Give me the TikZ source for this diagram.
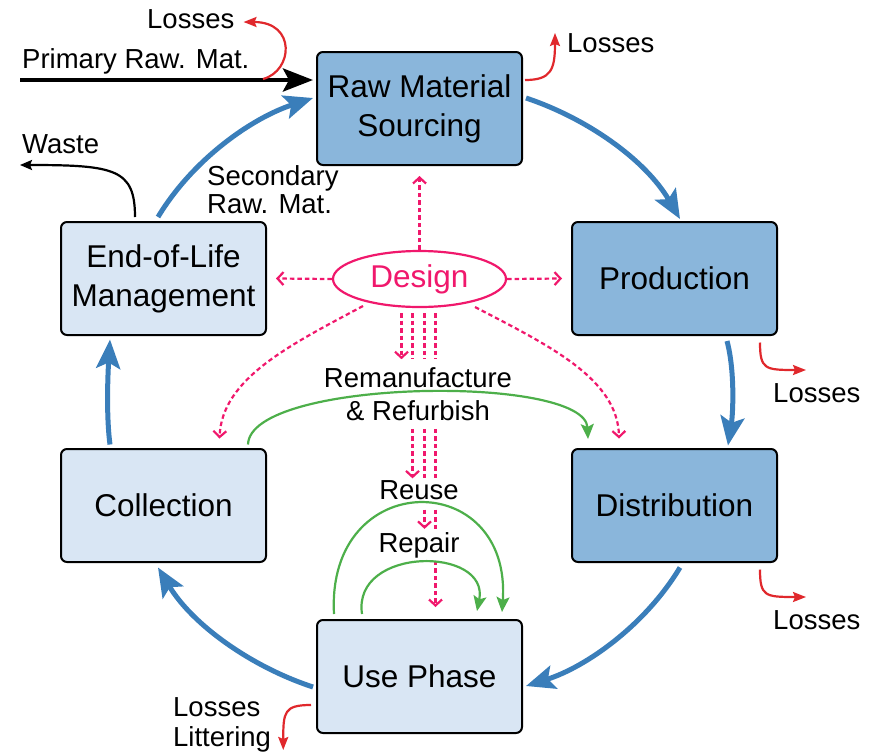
\documentclass[tikz,border=0pt]{standalone}
\usepackage{fontspec}
\setmainfont{Liberation Sans}
\usetikzlibrary{arrows.meta,shapes.geometric,calc}
\definecolor{darkbox}{HTML}{8AB6DB}
\definecolor{lightbox}{HTML}{D9E6F4}
\definecolor{blueflow}{HTML}{3A7EBA}
\definecolor{lossred}{HTML}{E0282C}
\definecolor{dpink}{HTML}{F0186C}
\definecolor{gflow}{HTML}{4DAF4A}
\begin{document}
\begin{tikzpicture}[x=1pt,y=-1pt,
 box/.style={draw=black,line width=2pt,rounded corners=6pt,minimum width=205pt,minimum height=113pt,inner sep=0pt,align=center,font=\fontsize{31.5}{39}\selectfont},
 darkb/.style={box,fill=darkbox},
 lightb/.style={box,fill=lightbox},
 lbl/.style={inner sep=0pt,font=\fontsize{27.5}{29}\selectfont},
 flow/.style={draw=blueflow,line width=5pt,-{Stealth[length=29pt,width=24pt,inset=6pt]}},
 primflow/.style={draw=black,line width=4.5pt,-{Stealth[length=30pt,width=23pt,inset=6pt]}},
 loss/.style={draw=lossred,line width=2.2pt,-{Stealth[length=13pt,width=10pt,inset=2pt]}},
 wasteflow/.style={draw=black,line width=2.2pt,-{Stealth[length=12pt,width=10pt,inset=2pt]}},
 pdot/.style={draw=dpink,line width=2.2pt,dash pattern=on 4.5pt off 3pt},
 parr/.style={pdot,-{Straight Barb[length=6pt,width=13pt]}},
 gloop/.style={draw=gflow,line width=2.2pt,-{Stealth[length=15pt,width=13pt,inset=3pt]}},
]
\useasboundingbox (0,0) rectangle (872,753);

% main boxes
\node[darkb] (rms) at (419.5,108.5) {Raw Material\\Sourcing};
\node[darkb] (prod) at (674.5,278.5) {Production};
\node[darkb] (dist) at (674.5,505.5) {Distribution};
\node[lightb] (use) at (419.5,676.5) {Use Phase};
\node[lightb] (coll) at (163.5,505.5) {Collection};
\node[lightb] (eol) at (163.5,278.5) {End-of-Life\\Management};
\node[draw=dpink,line width=2.2pt,ellipse,minimum width=173pt,minimum height=56pt,inner sep=0pt,text=dpink,font=\fontsize{31.5}{39}\selectfont] (design) at (419.5,279) {Design};

% labels
\node[lbl,anchor=base west] (lossA) at (147,28) {Losses};
\node[lbl,anchor=base west] (prim) at (22,68) {Primary Raw. Mat.};
\node[lbl,anchor=base west] (waste) at (22,153) {Waste};
\node[lbl,anchor=north west,align=left,font=\fontsize{27.5}{28.5}\selectfont] (sec) at (207,165) {Secondary\\Raw. Mat.};
\node[lbl,anchor=base west] (lossB) at (567,52) {Losses};
\node[lbl,anchor=base west] (lossC) at (773,402) {Losses};
\node[lbl,anchor=base west] (lossD) at (773,629) {Losses};
\node[lbl,anchor=north west,align=left,font=\fontsize{27.5}{30}\selectfont] (lossE) at (173,697) {Losses\\Littering};
\node[lbl,align=center,inner ysep=8pt,font=\fontsize{27.5}{33}\selectfont] (reman) at (418,394) {Remanufacture\\\& Refurbish};
\node[lbl,anchor=base,inner ysep=1.5pt,text depth=9pt] (reuse) at (419,499) {Reuse};
\node[lbl,anchor=base,inner ysep=3pt] (repair) at (419,552) {Repair};

% helper coordinates
\coordinate (pstart) at (20,80);
\coordinate (ploss) at (263,79);
\coordinate (v1) at ($(design.south)+(-18,5)$);
\coordinate (v2) at ($(design.south)+(-7,5)$);
\coordinate (v3) at ($(design.south)+(5,5)$);
\coordinate (v4) at ($(design.south)+(16,5)$);

% blue cycle
\draw[flow] ($(rms.east)+(3,-10.5)$) .. controls +(60,20) and +(-35,-60) .. ($(prod.north)+(5.5,-2)$);
\draw[flow] ($(prod.south)+(52.5,5)$) .. controls +(8,30) and +(5,-32) .. ($(dist.north)+(53.5,-2.5)$);
\draw[flow] ($(dist.south)+(5.5,4.5)$) .. controls +(-35,58) and +(60,-19) .. ($(use.east)+(3,9.5)$);
\draw[flow] ($(use.west)+(-3,10.5)$) .. controls +(-61,-20) and +(35,58) .. ($(coll.south)+(-5.5,4.5)$);
\draw[flow] ($(coll.north)+(-53.5,-3.5)$) .. controls +(-4,-30) and +(-2,32) .. ($(eol.south)+(-53.5,3.5)$);
\draw[flow] ($(eol.north)+(-5.5,-4)$) .. controls +(35,-58) and +(-61,20) .. ($(rms.west)+(-3,-10.5)$);

% primary input and waste
\draw[primflow] (pstart) -- ($(rms.west)+(-3,-28.5)$);
\draw[wasteflow] ($(eol.north)+(-28.5,-4)$) .. controls +(0,-48) and +(95,0) .. ($(waste.base west)+(-2,12)$);

% losses
\draw[loss] (ploss) .. controls +(30,-8) and +(53,0) .. ($(lossA.base east)+(9,-6)$);
\draw[loss] ($(rms.east)+(2,-28.5)$) .. controls +(26,0) and +(0,37) .. ($(lossB.base west)+(-12,-19)$);
\draw[loss] ($(prod.south)+(85.5,6.5)$) .. controls +(0,27) and +(-41,0) .. ($(lossC.base west)+(33,-32)$);
\draw[loss] ($(dist.south)+(85.5,6.5)$) .. controls +(0,27) and +(-41,0) .. ($(lossD.base west)+(33,-32)$);
\draw[loss] ($(use.west)+(-5,28.5)$) .. controls +(-27,0) and +(0,-38) .. ($(lossE.north east)+(12,53)$);

% design influences
\draw[parr] (design.north) -- ($(rms.south)+(0,10)$);
\draw[parr] (design.west) -- ($(eol.east)+(9,0)$);
\draw[parr] (design.east) -- ($(prod.west)+(-9,0)$);
\draw[parr] ($(design.center)+(-56.5,27)$) .. controls +(-73,39) and +(2.5,-60) .. ($(coll.north)+(56,-9.5)$);
\draw[parr] ($(design.center)+(55.5,28)$) .. controls +(73,38) and +(-1,-60) .. ($(dist.north)+(-55.5,-9.5)$);

\draw[parr] (v1) -- (v1 |- reman.north);
\draw[pdot] (v2) -- (v2 |- reman.north);
\draw[parr] (v2 |- reman.south) -- (v2 |- reuse.north);
\draw[pdot] (v3) -- (v3 |- reman.north);
\draw[pdot] (v3 |- reman.south) -- (v3 |- reuse.north);
\draw[parr] (v3 |- reuse.south) -- (v3 |- repair.north);
\draw[pdot] (v4) -- (v4 |- reman.north);
\draw[pdot] (v4 |- reman.south) -- (v4 |- reuse.north);
\draw[pdot] (v4 |- reuse.south) -- (v4 |- repair.north);
\draw[parr] (v4 |- repair.south) -- ($(v4 |- use.north)+(0,-12)$);

% green loops
\draw[gloop] ($(coll.north)+(84.5,-3.5)$) .. controls +(2,-66) and +(-3,-65) .. ($(dist.north)+(-86.5,-9)$);
\draw[gloop] ($(use.north)+(-85.5,-5)$) .. controls +(-8,-147) and +(10,-145) .. ($(use.north)+(82.5,-7)$);
\draw[gloop] ($(use.north)+(-57.5,-5)$) .. controls +(-10,-68) and +(13,-65) .. ($(use.north)+(57.5,-8)$);
\end{tikzpicture}
\end{document}
